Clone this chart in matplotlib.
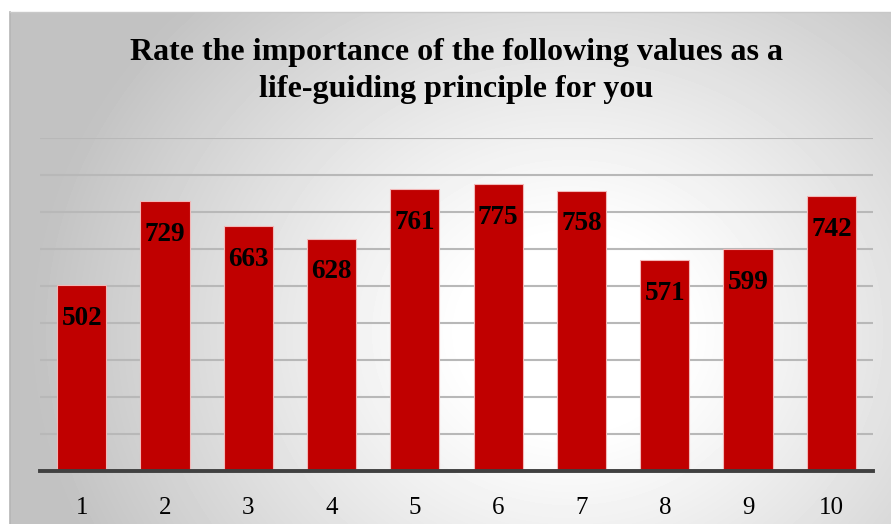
import matplotlib
matplotlib.use("Agg")
import matplotlib.pyplot as plt
import numpy as np

categories = ["1", "2", "3", "4", "5", "6", "7", "8", "9", "10"]
scores = [502, 729, 663, 628, 761, 775, 758, 571, 599, 742]
title = "Rate the importance of the following values as a\nlife-guiding principle for you"

W, H = 891, 524
fig = plt.figure(figsize=(W / 100, H / 100), dpi=100)
fig.patch.set_facecolor("white")

# radial gray gradient behind the chart
bg = fig.add_axes([10 / W, 0, (W - 10) / W, (H - 12) / H])
yy, xx = np.mgrid[0:512, 0:881]
r = np.hypot((xx - 560) / 540, (yy - 320) / 470)
t = np.clip((r - 0.2) / 0.8, 0, 1)
shade = 1.0 - 0.24 * t ** 1.1
bg.imshow(shade, cmap="gray", vmin=0, vmax=1, aspect="auto", interpolation="bilinear")
bg.set_axis_off()
fig.add_artist(plt.Line2D([10 / W, 10 / W], [0, (H - 12) / H], color="#b5b5b5", lw=1.2))
fig.add_artist(plt.Line2D([10 / W, 1], [(H - 12) / H, (H - 12) / H], color="#c8c8c8", lw=1.0))

ax = fig.add_axes([40 / W, (H - 471) / H, 833 / W, (471 - 138) / H])
ax.set_facecolor("none")
x = np.arange(len(categories))
bars = ax.bar(x, scores, width=0.59, color="#C00000", edgecolor="#f2b8b8", linewidth=0.8, zorder=3)
for b, v in zip(bars, scores):
    ax.annotate(f"{v}", (b.get_x() + b.get_width() / 2, v), xytext=(0, -15),
                textcoords="offset points", ha="center", va="top",
                fontsize=19.5, fontweight="bold", family="Liberation Serif", color="black", zorder=4)

ax.set_xlim(-0.5, len(categories) - 0.5)
ax.set_ylim(0, 900)
ax.set_yticks(np.arange(0, 901, 100))
ax.yaxis.grid(True, color="#b8b8b8", linewidth=1.5, zorder=0)
ax.tick_params(axis="y", left=False, labelleft=False)
ax.set_xticks(x)
ax.set_xticklabels(categories, fontsize=18, family="Liberation Serif")
ax.tick_params(axis="x", length=0, pad=19)
for s in ["top", "right", "left"]:
    ax.spines[s].set_visible(False)
ax.spines["bottom"].set_color("#404040")
ax.spines["bottom"].set_linewidth(2.8)
ax.spines["bottom"].set_zorder(5)

fig.text(456 / W, 1 - 71 / H, title, ha="center", va="center", fontsize=23,
         fontweight="bold", family="Liberation Serif", linespacing=1.32)

fig.savefig("out.png", dpi=100)
